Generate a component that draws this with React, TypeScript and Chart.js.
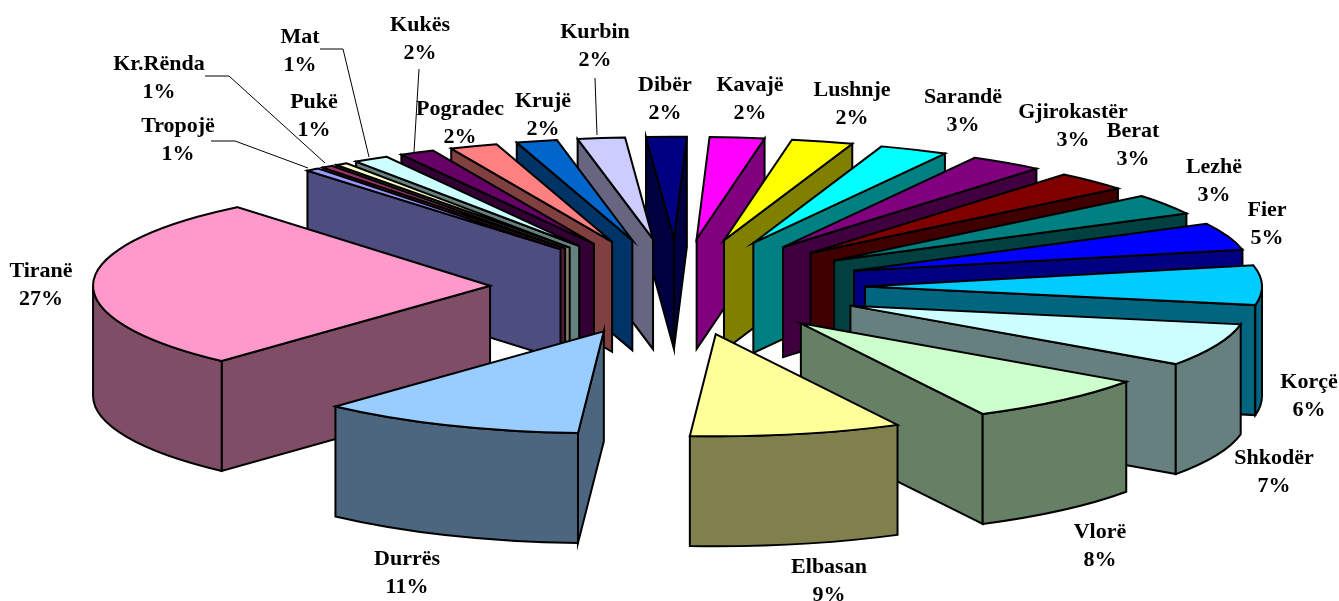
import React, { useEffect, useRef } from "react";
import { Chart, registerables } from "chart.js";

Chart.register(...registerables);

const categories = ["Tropojë", "Kr.Rënda", "Pukë", "Mat", "Kukës", "Pogradec", "Krujë", "Kurbin", "Dibër", "Kavajë", "Lushnje", "Sarandë", "Gjirokastër", "Berat", "Lezhë", "Fier", "Korçë", "Shkodër", "Vlorë", "Elbasan", "Durrës", "Tiranë"];
const values = [0.55, 0.45, 0.5, 1.44, 1.42, 1.94, 1.66, 1.92, 1.64, 2.22, 2.5, 2.78, 3.0, 3.08, 3.28, 4.31, 6.25, 6.78, 7.72, 8.61, 10.78, 27.19];
const percentLabels = ["1%", "1%", "1%", "1%", "2%", "2%", "2%", "2%", "2%", "2%", "2%", "3%", "3%", "3%", "3%", "5%", "6%", "7%", "8%", "9%", "11%", "27%"];
const sliceColors = ["#9999FF", "#993366", "#FFFFCC", "#CCFFFF", "#660066", "#FF8080", "#0066CC", "#CCCCFF", "#000080", "#FF00FF", "#FFFF00", "#00FFFF", "#800080", "#800000", "#008080", "#0000FF", "#00CCFF", "#CCFFFF", "#CCFFCC", "#FFFF99", "#99CCFF", "#FF99CC"];

// Text placement on the page: centre x, first-line y
const labelPlaces: [number, number][] = [[178, 126], [159, 64], [314, 102], [300, 37], [420, 25], [460, 109], [543, 101], [595, 32], [665, 85], [750, 85], [852, 90], [963, 97], [1073, 112], [1133, 131], [1214, 167], [1267, 210], [1309, 382], [1274, 458], [1100, 532], [829, 567], [407, 559], [41, 271]];
// Leader lines by slice index: page points up to the slice
const leaderLines: Record<number, [number, number][]> = {
  0: [[211, 141], [235, 141], [308, 168]],
  1: [[205, 76], [229, 76], [325, 163]],
  3: [[320, 49], [343, 49], [369, 157]],
  4: [[419, 69], [414, 152]],
  7: [[595, 78], [597, 135]],
};

const TILT = 0.257;
const DEPTH = 110;
const FONT = "bold 22px 'Liberation Serif'";
const LINE_GAP = 28;

const halfShade = (hex: string) => {
  const n = parseInt(hex.slice(1), 16);
  const c = (s: number) => Math.round(((n >> s) & 255) / 2);
  return `rgb(${c(16)},${c(8)},${c(0)})`;
};

const pie3d = {
  id: "pie3d",
  beforeDatasetDraw(chart: any) {
    const ctx: CanvasRenderingContext2D = chart.ctx;
    const arcs = chart.getDatasetMeta(0).data.map((arc: any) => {
      const p = arc.getProps(["x", "y", "startAngle", "endAngle", "outerRadius"]);
      const mid = (p.startAngle + p.endAngle) / 2;
      const off = arc.options.offset;
      return {
        a: p.startAngle,
        b: p.endAngle,
        r: p.outerRadius,
        mid,
        x: p.x + Math.cos(mid) * off,
        y: p.y + Math.sin(mid) * off * TILT,
        top: arc.options.backgroundColor,
      };
    });
    arcs.sort((s: any, t: any) => Math.sin(s.mid) - Math.sin(t.mid));
    ctx.save();
    ctx.lineWidth = 2;
    ctx.strokeStyle = "#000";
    ctx.lineJoin = "miter";
    const paint = (fill: string) => {
      ctx.fillStyle = fill;
      ctx.fill();
      ctx.stroke();
    };
    for (const s of arcs) {
      const side = halfShade(s.top);
      const ry = s.r * TILT;
      const edge = (ang: number) => {
        ctx.beginPath();
        ctx.moveTo(s.x, s.y);
        ctx.lineTo(s.x + s.r * Math.cos(ang), s.y + ry * Math.sin(ang));
        ctx.lineTo(s.x + s.r * Math.cos(ang), s.y + ry * Math.sin(ang) + DEPTH);
        ctx.lineTo(s.x, s.y + DEPTH);
        ctx.closePath();
        paint(side);
      };
      if (Math.cos(s.a) < 0) edge(s.a);
      if (Math.cos(s.b) > 0) edge(s.b);
      const tau = Math.PI * 2;
      for (let n = -1; n <= 2; n++) {
        const lo = Math.max(s.a, n * tau);
        const hi = Math.min(s.b, n * tau + Math.PI);
        if (hi > lo) {
          ctx.beginPath();
          ctx.ellipse(s.x, s.y, s.r, ry, 0, lo, hi);
          ctx.ellipse(s.x, s.y + DEPTH, s.r, ry, 0, hi, lo, true);
          ctx.closePath();
          paint(side);
        }
      }
      ctx.beginPath();
      ctx.moveTo(s.x, s.y);
      ctx.ellipse(s.x, s.y, s.r, ry, 0, s.a, s.b);
      ctx.closePath();
      paint(s.top);
    }
    ctx.restore();
    return false;
  },
  afterDatasetsDraw(chart: any) {
    const ctx: CanvasRenderingContext2D = chart.ctx;
    ctx.save();
    ctx.strokeStyle = "#000";
    ctx.lineWidth = 1;
    Object.values(leaderLines).forEach((pts) => {
      ctx.beginPath();
      pts.forEach(([x, y], i) => (i ? ctx.lineTo(x, y) : ctx.moveTo(x, y)));
      ctx.stroke();
    });
    ctx.fillStyle = "#000";
    ctx.font = FONT;
    ctx.textAlign = "center";
    ctx.textBaseline = "middle";
    categories.forEach((name, i) => {
      const [x, y] = labelPlaces[i];
      ctx.fillText(name, x, y);
      ctx.fillText(percentLabels[i], x, y + LINE_GAP);
    });
    ctx.restore();
  },
};

export default function App() {
  const ref = useRef<HTMLCanvasElement>(null);
  useEffect(() => {
    const chart = new Chart(ref.current as HTMLCanvasElement, {
      type: "pie",
      data: {
        labels: categories,
        datasets: [{ data: values, backgroundColor: sliceColors, offset: 187.5, radius: 397, borderWidth: 0 } as any],
      },
      options: {
        animation: false,
        responsive: false,
        rotation: 320.4,
        layout: { padding: { left: 16, right: 0, top: 0, bottom: 27 } },
        plugins: { legend: { display: false }, tooltip: { enabled: false } },
      },
      plugins: [pie3d],
    } as any);
    return () => chart.destroy();
  }, []);
  return (
    <div style={{ position: "absolute", left: 0, top: 0, width: 1339, height: 601, background: "#fff" }}>
      <canvas ref={ref} width={1339} height={601} style={{ display: "block" }} />
    </div>
  );
}
